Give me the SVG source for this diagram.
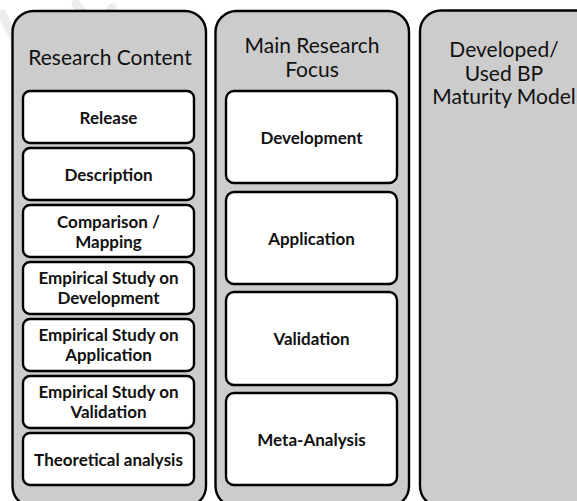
<svg xmlns="http://www.w3.org/2000/svg" width="577" height="501" viewBox="0 0 577 501">
<style>
.panel{fill:#cccccc;stroke:#000;stroke-width:2.4}
.box{fill:#fff;stroke:#000;stroke-width:2.4}
.title{font-family:Lato,"Liberation Sans",sans-serif;font-size:21px;fill:#111;text-anchor:middle}
.lbl{font-family:Lato,"Liberation Sans",sans-serif;font-size:17px;font-weight:bold;fill:#111;text-anchor:middle}
.wm{fill:none;stroke:#ececec;stroke-width:9;stroke-linecap:round}
</style>
<rect width="577" height="501" fill="#fff"/>
<g id="watermark">
<path class="wm" d="M2 14 L16 42"/>
<path class="wm" d="M76 4 L96 30 L112 8"/>
</g>
<g id="research-content">
<rect class="panel" x="12.5" y="11" width="193.5" height="496" rx="21"/>
<text class="title" x="110" y="65">Research Content</text>
</g>
<g id="release"><rect class="box" x="23" y="91" width="171" height="52" rx="7"/><text class="lbl" x="108.5" y="123.5">Release</text></g>
<g id="description"><rect class="box" x="23" y="148" width="171" height="52" rx="7"/><text class="lbl" x="108.5" y="180.5">Description</text></g>
<g id="comparison"><rect class="box" x="23" y="205" width="171" height="52" rx="7"/><text class="lbl" x="108.5" y="227.5">Comparison /</text><text class="lbl" x="108.5" y="247.5">Mapping</text></g>
<g id="emp-dev"><rect class="box" x="23" y="262" width="171" height="52" rx="7"/><text class="lbl" x="108.5" y="284">Empirical Study on</text><text class="lbl" x="108.5" y="304">Development</text></g>
<g id="emp-app"><rect class="box" x="23" y="319" width="171" height="52" rx="7"/><text class="lbl" x="108.5" y="341">Empirical Study on</text><text class="lbl" x="108.5" y="361">Application</text></g>
<g id="emp-val"><rect class="box" x="23" y="376" width="171" height="52" rx="7"/><text class="lbl" x="108.5" y="398">Empirical Study on</text><text class="lbl" x="108.5" y="418">Validation</text></g>
<g id="theoretical"><rect class="box" x="23" y="433" width="171" height="52" rx="7"/><text class="lbl" x="108.5" y="465.5">Theoretical analysis</text></g>
<g id="main-focus">
<rect class="panel" x="215.5" y="11" width="193.5" height="496" rx="21"/>
<text class="title" x="312" y="53">Main Research</text>
<text class="title" x="312" y="77">Focus</text>
</g>
<g id="development"><rect class="box" x="226" y="91" width="171" height="92" rx="8"/><text class="lbl" x="311.5" y="143.5">Development</text></g>
<g id="application"><rect class="box" x="226" y="192" width="171" height="92" rx="8"/><text class="lbl" x="311.5" y="244.5">Application</text></g>
<g id="validation"><rect class="box" x="226" y="292" width="171" height="93" rx="8"/><text class="lbl" x="311.5" y="345">Validation</text></g>
<g id="meta-analysis"><rect class="box" x="226" y="393" width="171" height="92" rx="8"/><text class="lbl" x="311.5" y="445.5">Meta-Analysis</text></g>
<g id="bp-model">
<rect class="panel" x="420" y="10.5" width="180" height="496.5" rx="21"/>
<text class="title" x="504" y="57">Developed/</text>
<text class="title" x="504" y="80.5">Used BP</text>
<text class="title" x="504" y="104">Maturity Model</text>
</g>
<g id="connectors"></g>
</svg>
